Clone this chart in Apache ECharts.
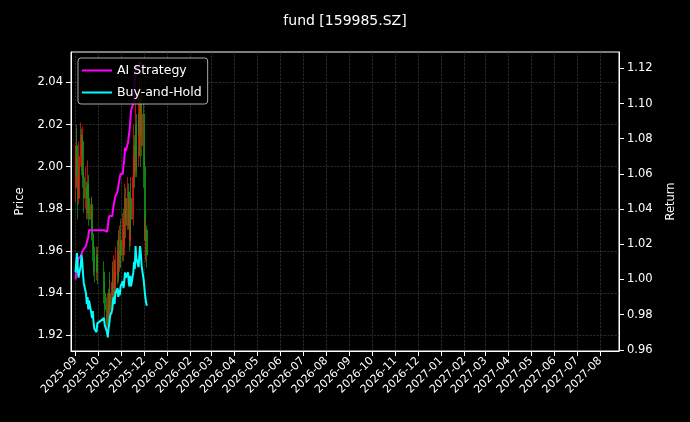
<!DOCTYPE html>
<html><head><meta charset="utf-8">
<script src="https://cdn.jsdelivr.net/npm/echarts@6/dist/echarts.min.js"></script>
<style>html,body{margin:0;padding:0;background:#000}#c{width:690px;height:422px}</style>
</head><body><div id="c"></div>
<script>
const dates = ['2025-09-01','2025-09-02','2025-09-03','2025-09-04','2025-09-05','2025-09-08','2025-09-09','2025-09-10','2025-09-11','2025-09-12','2025-09-15','2025-09-16','2025-09-17','2025-09-18','2025-09-19','2025-09-22','2025-09-23','2025-09-24','2025-09-25','2025-09-26','2025-09-29','2025-09-30',
'2025-10-09','2025-10-10','2025-10-13','2025-10-14','2025-10-15','2025-10-16','2025-10-17','2025-10-20','2025-10-21','2025-10-22','2025-10-23','2025-10-24','2025-10-27','2025-10-28','2025-10-29','2025-10-30','2025-10-31',
'2025-11-03','2025-11-04','2025-11-05','2025-11-06','2025-11-07','2025-11-10','2025-11-11','2025-11-12','2025-11-13','2025-11-14','2025-11-17','2025-11-18','2025-11-19','2025-11-20','2025-11-21','2025-11-24','2025-11-25','2025-11-26','2025-11-27','2025-11-28',
'2025-12-01','2025-12-02','2025-12-03','2025-12-04','2025-12-05'];
// [open, close, low, high]
const ohlc = [
[1.990,1.995,1.983,2.000],[1.995,2.010,1.990,2.018],[2.010,2.000,1.995,2.020],[2.000,1.985,1.975,2.004],[1.985,2.005,1.982,2.012],
[2.005,2.015,2.000,2.021],[2.015,2.000,1.996,2.018],[2.000,2.012,1.995,2.019],[2.012,1.995,1.990,2.014],[1.995,1.985,1.978,1.998],
[1.985,1.990,1.980,2.000],[1.990,1.978,1.975,1.993],[1.978,1.992,1.975,2.003],[1.992,1.985,1.982,1.996],[1.985,1.975,1.972,1.990],
[1.975,1.982,1.970,1.986],[1.982,1.968,1.965,1.985],[1.968,1.960,1.955,1.972],[1.960,1.955,1.948,1.965],[1.955,1.950,1.945,1.962],
[1.950,1.958,1.946,1.962],[1.958,1.950,1.944,1.962],
[1.950,1.940,1.935,1.955],[1.940,1.932,1.928,1.945],[1.932,1.925,1.920,1.938],[1.925,1.935,1.922,1.940],[1.935,1.928,1.924,1.942],
[1.928,1.940,1.925,1.946],[1.940,1.932,1.928,1.950],[1.932,1.945,1.930,1.952],[1.945,1.938,1.933,1.955],[1.938,1.950,1.935,1.958],
[1.950,1.942,1.938,1.956],[1.942,1.955,1.940,1.962],[1.955,1.948,1.944,1.965],[1.948,1.960,1.945,1.968],[1.960,1.952,1.946,1.970],
[1.952,1.965,1.950,1.972],[1.965,1.958,1.952,1.975],
[1.958,1.970,1.955,1.978],[1.970,1.962,1.955,1.980],[1.962,1.975,1.958,1.985],[1.975,1.985,1.968,1.992],[1.985,1.972,1.966,1.990],
[1.972,1.988,1.970,1.995],[1.988,1.978,1.970,1.992],[1.978,1.965,1.960,1.982],[1.965,1.985,1.962,1.995],[1.985,1.975,1.968,1.992],
[1.975,1.995,1.972,2.005],[1.995,2.010,1.990,2.020],[2.010,1.998,1.990,2.015],[1.998,2.020,1.995,2.035],[2.020,2.005,1.995,2.025],
[2.005,2.025,2.000,2.038],[2.025,2.015,2.005,2.032],[2.015,2.030,2.010,2.042],[2.030,2.010,2.000,2.035],[2.010,2.025,2.005,2.040],
[2.025,2.000,1.990,2.030],[2.000,1.975,1.968,2.005],[1.975,1.965,1.958,1.980],[1.965,1.970,1.955,1.975],[1.970,1.958,1.952,1.972]];
const aiStrategy = [1.000,1.004,1.008,1.010,1.012,1.013,1.013,1.016,1.017,1.017,1.019,1.021,1.021,1.024,1.028,1.028,1.028,1.028,1.028,1.028,1.028,1.027,
1.028,1.027,1.027,1.030,1.034,1.036,1.036,1.036,1.040,1.041,1.045,1.047,1.050,1.053,1.053,1.058,1.060,
1.060,1.065,1.068,1.075,1.073,1.078,1.078,1.085,1.090,1.096,1.100,1.106,1.113,1.116,1.120,1.122,1.121,1.124,1.122,1.123,
1.122,1.121,1.121,1.121,1.121];
const buyHold = [1.004,1.010,1.015,1.006,1.001,1.008,1.014,1.010,1.003,0.998,0.992,0.986,0.990,0.983,0.988,0.981,0.978,0.982,0.976,0.972,0.970,0.975,
0.978,0.974,0.970,0.967,0.972,0.975,0.979,0.983,0.988,0.990,0.986,0.992,0.995,0.990,0.994,0.991,0.996,
0.999,0.995,0.999,1.004,1.001,1.004,0.998,0.996,1.002,0.996,1.004,1.010,1.006,1.019,1.012,1.007,1.013,1.019,1.015,1.008,
0.999,0.994,0.990,0.987,0.985];
const priceTicks = [1.92,1.94,1.96,1.98,2.00,2.02,2.04];
const returnTicks = [0.96,0.98,1.00,1.02,1.04,1.06,1.08,1.10,1.12];

const F = 'DejaVu Sans';
const chart = echarts.init(document.getElementById('c'));
const candle = dates.map((d,i)=>[d, ...ohlc[i]]);
chart.setOption({
  backgroundColor:'#000',
  animation:false,
  textStyle:{fontFamily:F,color:'#fff'},
  title:{text:'fund [159985.SZ]',left:'center',top:9,textStyle:{color:'#fff',fontSize:14,fontWeight:'normal',fontFamily:F}},
  legend:{left:78,top:58,orient:'vertical',itemWidth:30,itemHeight:2,itemGap:9,padding:[6,6,5,4],
    backgroundColor:'rgba(0,0,0,0.85)',borderColor:'#aaa',borderWidth:1,borderRadius:3,
    textStyle:{color:'#fff',fontSize:12.5,fontFamily:F},data:[{name:'AI Strategy',icon:'rect'},{name:'Buy-and-Hold',icon:'rect'}]},
  grid:{left:71,right:71,top:52,bottom:71,show:true,borderColor:'#fff',borderWidth:1,backgroundColor:'transparent'},
  xAxis:{type:'time',min:'2025-08-26',max:'2027-08-26',minInterval:28*86400000,maxInterval:31*86400000,
    axisLine:{lineStyle:{color:'#fff'}},axisTick:{show:true,lineStyle:{color:'#fff'}},
    axisLabel:{color:'#fff',fontSize:11,rotate:45,formatter:'{yyyy}-{MM}',hideOverlap:false,fontFamily:F},
    splitLine:{show:true,lineStyle:{color:'#444',type:'dashed',width:0.6}}},
  yAxis:[
    {type:'value',min:1.9124,max:2.0545,interval:0.02,name:'Price',nameLocation:'middle',nameGap:44,nameRotate:90,
     nameTextStyle:{color:'#fff',fontSize:11.5},
     axisLine:{show:true,lineStyle:{color:'#fff'}},
     axisLabel:{color:'#fff',fontSize:11.5,customValues:priceTicks,formatter:v=>v.toFixed(2)},
     axisTick:{show:true,customValues:priceTicks,lineStyle:{color:'#fff'}},
     splitLine:{show:true,lineStyle:{color:'#444',type:'dashed',width:0.6}}},
    {type:'value',min:0.9593,max:1.1293,name:'Return',nameLocation:'middle',nameGap:46,nameRotate:90,
     nameTextStyle:{color:'#fff',fontSize:11.5},position:'right',
     axisLine:{show:true,lineStyle:{color:'#fff'}},
     axisLabel:{color:'#fff',fontSize:11.5,customValues:returnTicks,formatter:v=>v.toFixed(2)},
     axisTick:{show:true,customValues:returnTicks,lineStyle:{color:'#fff'}},
     splitLine:{show:false}}
  ],
  series:[
    {type:'candlestick',name:'Price',yAxisIndex:0,data:candle,barMaxWidth:1.5,
     itemStyle:{color:'rgba(230,30,20,0.75)',color0:'rgba(20,150,20,0.75)',borderColor:'rgba(230,30,20,0.75)',borderColor0:'rgba(20,150,20,0.75)',borderWidth:1}},
    {type:'line',name:'AI Strategy',yAxisIndex:1,data:dates.map((d,i)=>[d,aiStrategy[i]]),showSymbol:false,
     lineStyle:{color:'#ff00ff',width:2},itemStyle:{color:'#ff00ff'}},
    {type:'line',name:'Buy-and-Hold',yAxisIndex:1,data:dates.map((d,i)=>[d,buyHold[i]]),showSymbol:false,
     lineStyle:{color:'#00ffff',width:2},itemStyle:{color:'#00ffff'}}
  ]
});
</script></body></html>
